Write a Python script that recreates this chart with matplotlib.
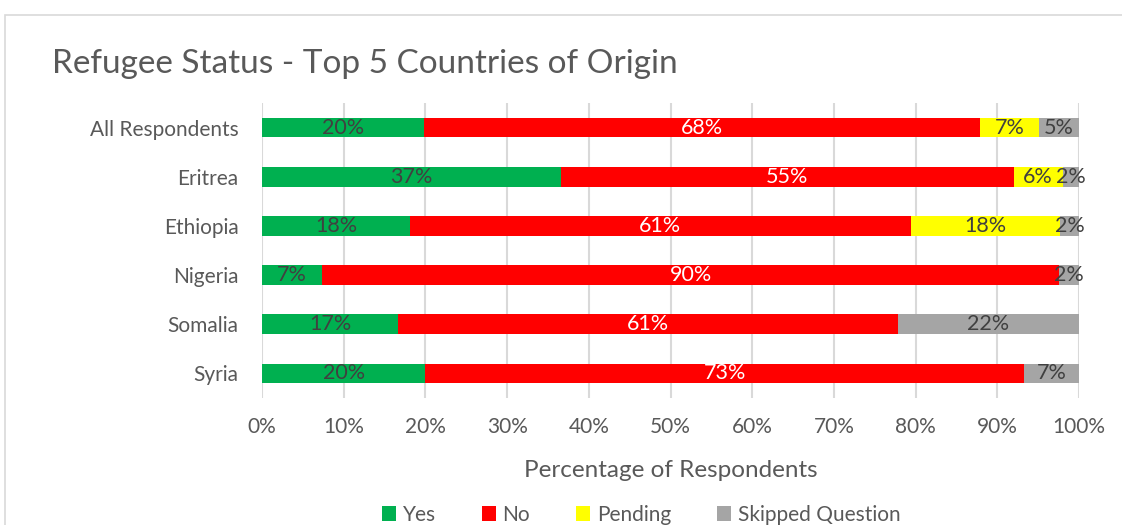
import matplotlib.pyplot as plt
from matplotlib.patches import Rectangle
import numpy as np

plt.rcParams['font.family'] = ['Lato', 'DejaVu Sans']

countries = ['All Respondents', 'Eritrea', 'Ethiopia', 'Nigeria', 'Somalia', 'Syria']
yes = [19.8, 36.6, 18.1, 7.3, 16.7, 20.0]
no = [68.1, 55.4, 61.3, 90.3, 61.1, 73.3]
pending = [7.2, 6.0, 18.3, 0.0, 0.0, 0.0]
skipped = [4.9, 2.0, 2.3, 2.4, 22.2, 6.7]

series = ['Yes', 'No', 'Pending', 'Skipped Question']
colors = ['#00B050', '#FF0000', '#FFFF00', '#A5A5A5']
label_colors = ['#404040', 'white', '#404040', '#404040']
text_grey = '#595959'
fs = 15

W, H = 1122, 525
fig = plt.figure(figsize=(W / 100, H / 100), dpi=100)

# chart frame (cropped screenshot: only top and left edges show)
fig.patches.append(Rectangle((5 / W, -0.1), 1.2, 1 - 15 / H + 0.1,
                             transform=fig.transFigure, fill=False,
                             edgecolor='#D9D9D9', linewidth=1.2))

ax = fig.add_axes([262 / W, 1 - 398 / H, (1079 - 262) / W, (398 - 103) / H])

y = np.arange(len(countries))
left = np.zeros(len(countries))
for vals, name, c, lc in zip([yes, no, pending, skipped], series, colors, label_colors):
    vals = np.array(vals)
    ax.barh(y, vals, left=left, height=0.4, color=c, label=name, zorder=3)
    for yi, v, l in zip(y, vals, left):
        if v > 0:
            ax.text(l + v / 2, yi, f'{v:.0f}%', ha='center', va='center',
                    color=lc, fontsize=fs + 0.5, zorder=4)
    left += vals

ax.set_ylim(len(countries) - 0.5, -0.5)
ax.set_xlim(0, 100)
ax.set_xticks(np.arange(0, 101, 10))
ax.set_xticklabels([f'{t}%' for t in range(0, 101, 10)])
ax.set_yticks(y)
ax.set_yticklabels(countries)
ax.tick_params(length=0, labelsize=fs, labelcolor=text_grey)
ax.tick_params(axis='x', pad=14)
ax.tick_params(axis='y', pad=17)
ax.grid(axis='x', color='#D9D9D9', linewidth=1.5, zorder=0)
for s in ax.spines.values():
    s.set_visible(False)
ax.set_xlabel('Percentage of Respondents', fontsize=17.5, color=text_grey, labelpad=16)

fig.text(52 / W, 1 - 64 / H, 'Refugee Status - Top 5 Countries of Origin',
         fontsize=24, color=text_grey, va='center', ha='left')

fig.legend(loc='center', bbox_to_anchor=(641 / W, 1 - 515 / H), ncol=4,
           frameon=False, fontsize=fs, labelcolor=text_grey,
           handlelength=0.7, handleheight=0.7, handletextpad=0.3,
           columnspacing=2.2)

fig.savefig('out.png', dpi=100)
